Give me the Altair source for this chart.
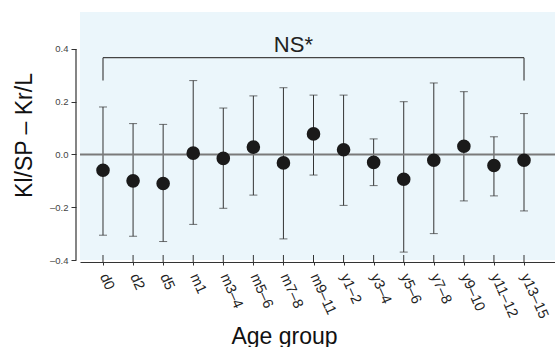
import altair as alt
import pandas as pd

# ---- data ----
categories = ["d0", "d2", "d5", "m1", "m3–4", "m5–6", "m7–8", "m9–11",
              "y1–2", "y3–4", "y5–6", "y7–8", "y9–10", "y11–12", "y13–15"]
means = [-0.060, -0.100, -0.110, 0.005, -0.015, 0.028, -0.032, 0.078,
         0.018, -0.030, -0.094, -0.022, 0.031, -0.042, -0.022]
lower = [-0.306, -0.310, -0.330, -0.265, -0.204, -0.154, -0.320, -0.078,
         -0.193, -0.118, -0.370, -0.300, -0.176, -0.157, -0.214]
upper = [0.180, 0.117, 0.114, 0.280, 0.176, 0.222, 0.253, 0.225,
         0.225, 0.059, 0.200, 0.271, 0.238, 0.067, 0.155]
y_ticks = [-0.4, -0.2, 0.0, 0.2, 0.4]

bracket_top = 0.367
bracket_leg_bottom = 0.28
annot_text = "NS*"
annot_anchor = "m7–8"
annot_y = 0.389

df = pd.DataFrame({"cat": categories, "mean": means, "lo": lower, "hi": upper})
legs = pd.DataFrame({"cat": [categories[0], categories[-1]],
                     "top": [bracket_top] * 2,
                     "bot": [bracket_leg_bottom] * 2})
one = pd.DataFrame({"k": [0]})

W, H = 475, 248
FONT = "Liberation Sans"
DARK = "#333333"

xscale = alt.Scale(type="point", domain=categories, padding=0.8975, align=0.426)
yscale = alt.Scale(domain=[-0.4, 0.54], nice=False, zero=False)

xaxis = alt.Axis(
    labelOverlap=False, labelBound=False,
    labelAngle=66, labelAlign="left", labelBaseline="middle",
    labelFontSize=14.5, labelColor="#222222", labelPadding=9,
    tickSize=3, tickColor=DARK, domainColor=DARK, domainWidth=1.2,
    offset=2, grid=False,
    title="Age group", titleFontSize=23, titleFontWeight="normal",
    titleColor="#111111", titleAlign="center", titleBaseline="alphabetic",
    titleX=204, titleY=81,
)
yaxis = alt.Axis(
    values=y_ticks,
    labelExpr="datum.value < 0 ? '–' + format(-datum.value, '.1f') : format(datum.value, '.1f')",
    labelFontSize=9.5, labelColor="#444444", labelPadding=3,
    tickSize=5, tickColor=DARK, domain=False, offset=4, grid=False,
    title="Kl/SP – Kr/L", titleFontSize=23, titleFontWeight="normal",
    titleColor="#111111", titleAngle=-90, titleAlign="center",
    titleBaseline="alphabetic", titleX=-45, titleY=123,
)

base = alt.Chart(df)
X = alt.X("cat:O", scale=xscale, axis=xaxis, sort=categories)

bars = base.mark_rule(color=DARK, strokeWidth=1).encode(
    x=X,
    y=alt.Y("lo:Q", scale=yscale, axis=yaxis),
    y2="hi:Q",
)
zero_line = alt.Chart(one).mark_rule(color="#7a7a7a", strokeWidth=2).encode(
    y=alt.datum(0)
)
yaxis_line = alt.Chart(one).mark_rule(color=DARK, strokeWidth=1.2).encode(
    x=alt.value(-4), y=alt.datum(y_ticks[-1]), y2=alt.datum(y_ticks[0])
)
inner_ticks = base.mark_rule(color=DARK, strokeWidth=1).encode(
    x=X, y=alt.value(H - 5), y2=alt.value(H + 2),
)
cap_lo = base.mark_tick(orient="horizontal", size=8, thickness=1, color=DARK).encode(
    x=X, y="lo:Q"
)
cap_hi = base.mark_tick(orient="horizontal", size=8, thickness=1, color=DARK).encode(
    x=X, y="hi:Q"
)
dots = base.mark_circle(size=185, color="#1a1a1a", opacity=1).encode(
    x=X, y="mean:Q"
)
bracket_h = alt.Chart(one).mark_rule(color="#444444", strokeWidth=1.2).encode(
    x=alt.datum(categories[0]), x2=alt.datum(categories[-1]), y=alt.datum(bracket_top)
)
bracket_v = alt.Chart(legs).mark_rule(color="#444444", strokeWidth=1.2).encode(
    x=X, y="top:Q", y2="bot:Q"
)
annot = alt.Chart(one).mark_text(
    fontSize=22, align="center", baseline="alphabetic", color="#222222", font=FONT, dx=10
).encode(x=alt.datum(annot_anchor), y=alt.datum(annot_y), text=alt.value(annot_text))

chart = alt.layer(
    bars, zero_line, yaxis_line, inner_ticks, cap_lo, cap_hi, dots,
    bracket_h, bracket_v, annot
).properties(
    width=W, height=H,
    autosize=alt.AutoSizeParams(type="none"),
    padding={"left": 80, "top": 12, "right": 0, "bottom": 87},
).configure(font=FONT).configure_view(
    fill="#ebf6fb", stroke=None
)

chart.save("out.html", embed_options={"renderer": "svg", "actions": False})
